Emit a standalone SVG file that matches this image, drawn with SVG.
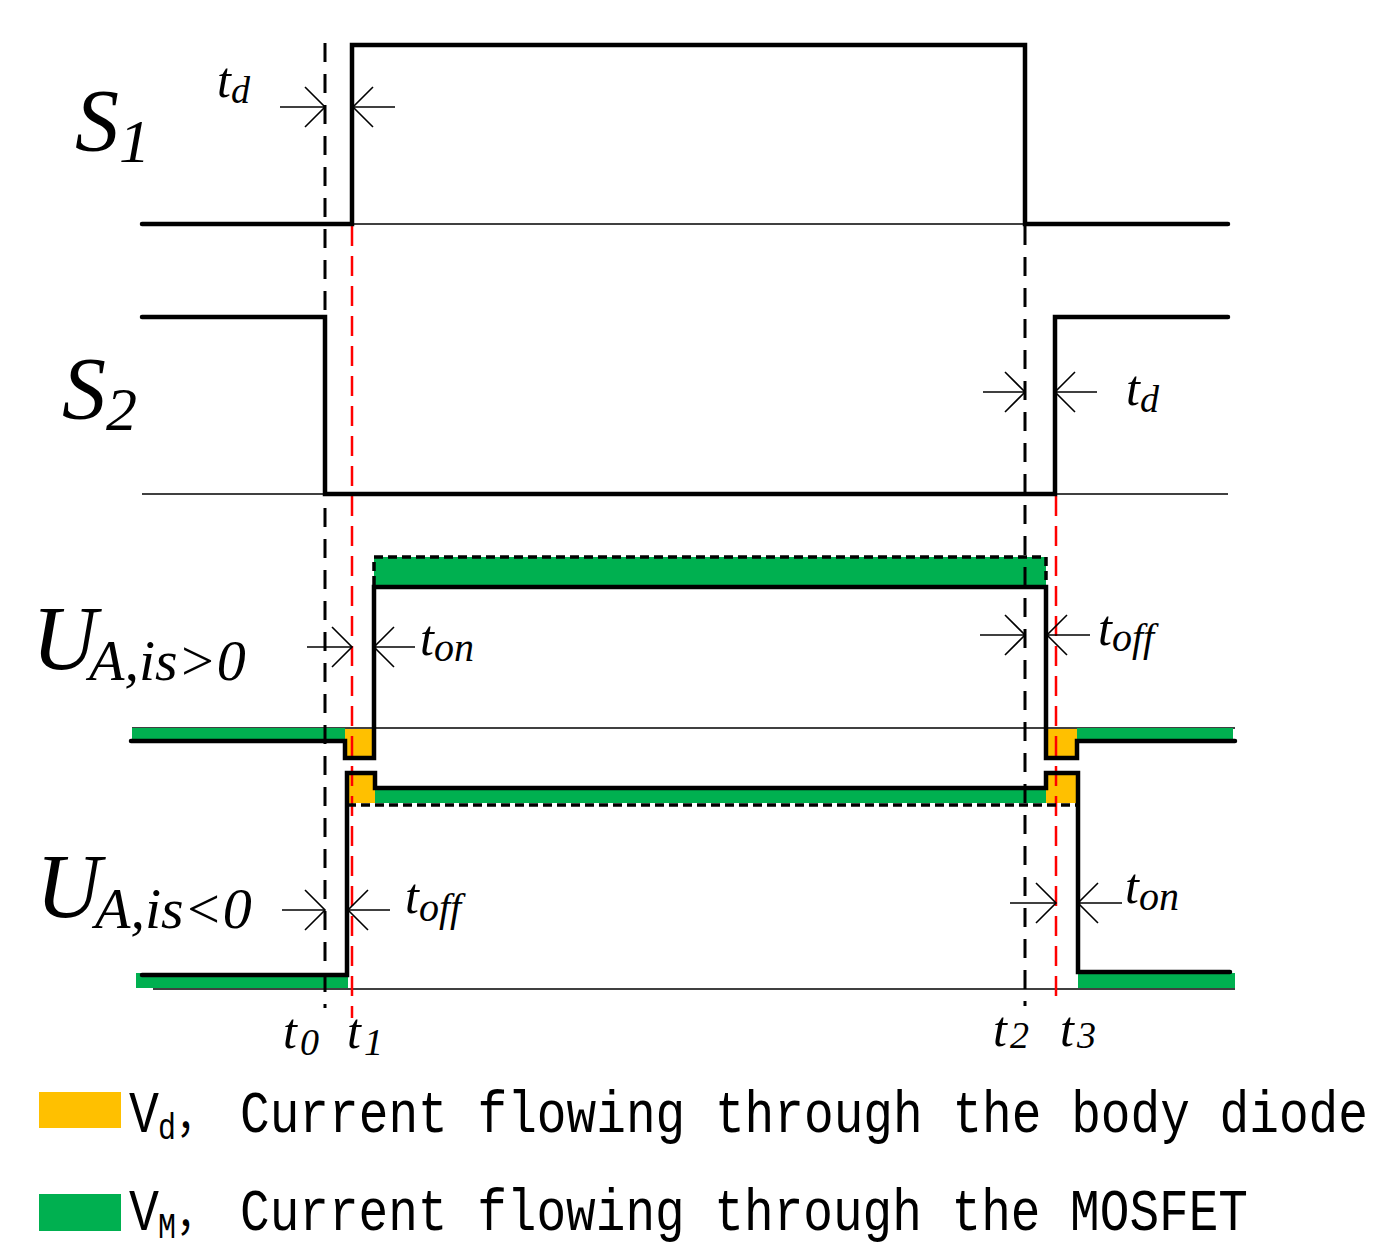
<svg xmlns="http://www.w3.org/2000/svg" width="1382" height="1249" viewBox="0 0 1382 1249">
<style>
.thin{stroke:#000;stroke-width:1.5;fill:none}
.wave{stroke:#000;stroke-width:4.5;fill:none;stroke-linejoin:miter;stroke-linecap:round}
.vdash{stroke:#000;stroke-width:3;stroke-dasharray:19 12;fill:none}
.rdash{stroke:#FF0000;stroke-width:2.5;stroke-dasharray:20 10;fill:none}
.bdash{stroke:#000;stroke-width:3.5;stroke-dasharray:9 5;fill:none}
.arr{stroke:#000;stroke-width:1.6;fill:none;marker-end:url(#open)}
.g{fill:#00B050}
.o{fill:#FFC000}
.lab{font-family:"Liberation Serif","Times New Roman",serif;font-style:italic;fill:#000}
.leg{font-family:"Liberation Mono","Courier New",monospace;fill:#000}
.cjk{font-family:"Noto Sans CJK SC",sans-serif;fill:#000}
</style>
<defs>
<marker id="open" markerUnits="userSpaceOnUse" markerWidth="44" markerHeight="44" refX="22" refY="22" orient="auto" viewBox="0 0 44 44">
<path d="M2,2 L22,22 L2,42" stroke="#000" stroke-width="1.6" fill="none"/>
</marker>
</defs>
<rect width="1382" height="1249" fill="#fff"/>

<g id="baselines">
<line class="thin" x1="142" y1="224" x2="1228" y2="224"/>
<line class="thin" x1="142" y1="494" x2="1228" y2="494"/>
<line class="thin" x1="132" y1="728" x2="1235" y2="728"/>
<line class="thin" x1="153" y1="989" x2="1235" y2="989"/>
</g>

<g id="fills">
<rect class="g" x="132" y="728" width="213" height="12"/>
<rect class="g" x="1077" y="728" width="156" height="12"/>
<rect class="g" x="374" y="557" width="672" height="28"/>
<rect class="g" x="375" y="788" width="671" height="15"/>
<rect class="g" x="136" y="973" width="212" height="15"/>
<rect class="g" x="1078" y="973" width="157" height="15"/>
<rect class="o" x="345" y="729" width="29" height="28"/>
<rect class="o" x="1046" y="729" width="31" height="28"/>
<rect class="o" x="347" y="773" width="28" height="30"/>
<rect class="o" x="1046" y="773" width="32" height="30"/>
</g>

<g id="time-markers">
<line class="vdash" x1="325" y1="43" x2="325" y2="1008"/>
<line class="vdash" x1="1025" y1="226" x2="1025" y2="1006"/>
<line class="rdash" x1="352" y1="226" x2="352" y2="1018"/>
<line class="rdash" x1="1056" y1="496" x2="1056" y2="1006"/>
</g>

<g id="S1">
<path class="wave" d="M142,224 H352 V45 H1025 V224 H1228"/>
<text class="lab" x="75" y="150" font-size="88">S<tspan font-size="62" dy="12">1</tspan></text>
</g>
<g id="S2">
<path class="wave" d="M142,317 H325 V494 H1055 V317 H1228"/>
<text class="lab" x="62" y="418" font-size="88">S<tspan font-size="62" dy="12">2</tspan></text>
</g>
<g id="UA-pos">
<path class="wave" d="M131,741 H345 V758 H374 V587 H1046 V758 H1077 V741 H1235"/>
<path class="bdash" d="M374,585 V557 H1046 V585"/>
<text class="lab" x="32" y="669" font-size="90">U<tspan font-size="58" dx="-8" dy="11">A,is&gt;0</tspan></text>
</g>
<g id="UA-neg">
<path class="wave" d="M142,975 H347 V773 H375 V788 H1046 V773 H1078 V972 H1230"/>
<path class="bdash" d="M347,805 H1077"/>
<text class="lab" x="36" y="917" font-size="90">U<tspan font-size="58" dx="-6" dy="11">A,is&lt;0</tspan></text>
</g>

<g id="connectors">
<line class="arr" x1="280" y1="107" x2="325" y2="107"/>
<line class="arr" x1="395" y1="107" x2="353" y2="107"/>
<line class="arr" x1="983" y1="392" x2="1025" y2="392"/>
<line class="arr" x1="1097" y1="392" x2="1055" y2="392"/>
<line class="arr" x1="307" y1="647" x2="352" y2="647"/>
<line class="arr" x1="415" y1="647" x2="374" y2="647"/>
<line class="arr" x1="980" y1="635" x2="1025" y2="635"/>
<line class="arr" x1="1090" y1="635" x2="1047" y2="635"/>
<line class="arr" x1="282" y1="910" x2="325" y2="910"/>
<line class="arr" x1="390" y1="910" x2="348" y2="910"/>
<line class="arr" x1="1010" y1="903" x2="1056" y2="903"/>
<line class="arr" x1="1122" y1="903" x2="1078" y2="903"/>
</g>

<g id="interval-labels">
<text class="lab" x="217" y="97" font-size="50">t<tspan font-size="38" dy="6">d</tspan></text>
<text class="lab" x="1126" y="405" font-size="50">t<tspan font-size="38" dy="7">d</tspan></text>
<text class="lab" x="420" y="655" font-size="50">t<tspan font-size="40" dy="6">on</tspan></text>
<text class="lab" x="1098" y="645" font-size="50">t<tspan font-size="40" dy="6">off</tspan></text>
<text class="lab" x="405" y="913" font-size="50">t<tspan font-size="40" dy="8">off</tspan></text>
<text class="lab" x="1125" y="903" font-size="50">t<tspan font-size="40" dy="7">on</tspan></text>
</g>

<g id="time-labels">
<text class="lab" x="283" y="1048" font-size="50">t<tspan font-size="38" dx="3" dy="7">0</tspan></text>
<text class="lab" x="347" y="1048" font-size="50">t<tspan font-size="38" dx="3" dy="7">1</tspan></text>
<text class="lab" x="993" y="1046" font-size="50">t<tspan font-size="38" dx="3" dy="2">2</tspan></text>
<text class="lab" x="1060" y="1046" font-size="50">t<tspan font-size="38" dx="3" dy="2">3</tspan></text>
</g>

<g id="legend-diode">
<rect class="o" x="39" y="1092" width="82" height="36"/>
<g transform="translate(0,1132) scale(1,1.2)">
<text class="leg" x="129" y="0" font-size="50">V</text>
<text class="leg" x="158" y="6" font-size="30">d</text>
<text class="cjk" x="176" y="0" font-size="40">，</text>
<text class="leg" x="240" y="0" font-size="50" textLength="1128" lengthAdjust="spacingAndGlyphs">Current flowing through the body diode</text>
</g>
</g>
<g id="legend-mosfet">
<rect class="g" x="39" y="1194" width="82" height="37"/>
<g transform="translate(0,1230) scale(1,1.2)">
<text class="leg" x="129" y="0" font-size="50">V</text>
<text class="leg" x="158" y="7" font-size="30">M</text>
<text class="cjk" x="176" y="0" font-size="40">，</text>
<text class="leg" x="240" y="0" font-size="50" textLength="1008" lengthAdjust="spacingAndGlyphs">Current flowing through the MOSFET</text>
</g>
</g>
</svg>
